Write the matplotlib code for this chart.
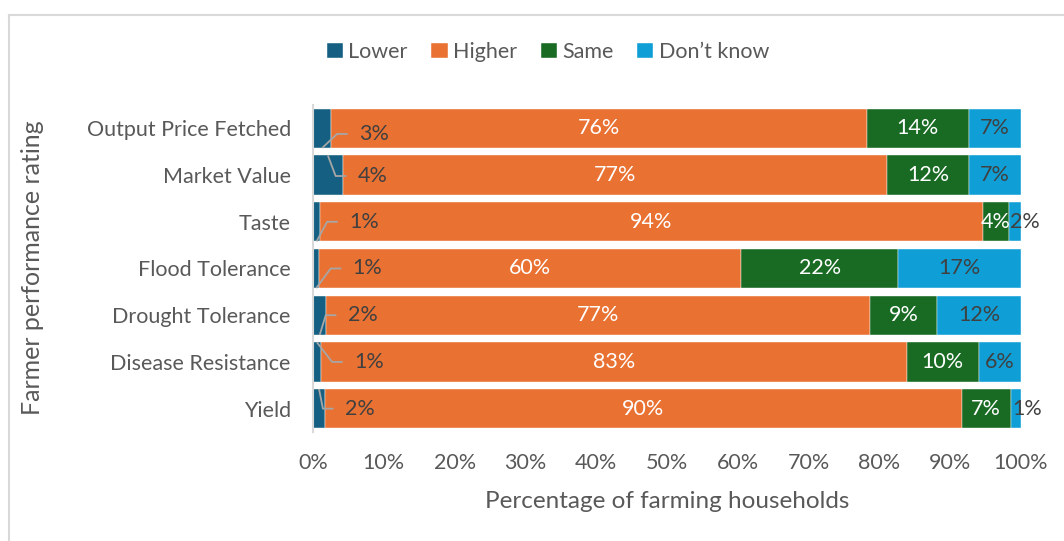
import matplotlib.pyplot as plt
from matplotlib.lines import Line2D

plt.rcParams['font.family'] = ['Lato', 'DejaVu Sans']

# Dados
categories = ["Output Price Fetched", "Market Value", "Taste", "Flood Tolerance",
              "Drought Tolerance", "Disease Resistance", "Yield"]
lower = [2.6, 4.2, 1.0, 0.9, 1.9, 1.1, 1.7]
higher = [75.6, 76.9, 93.6, 59.6, 76.8, 82.8, 89.9]
same = [14.4, 11.6, 3.7, 22.1, 9.4, 10.1, 7.0]
dont_know = [7.4, 7.3, 1.7, 17.4, 11.9, 6.0, 1.4]
series_names = ["Lower", "Higher", "Same", "Don\u2019t know"]

colors = ["#156082", "#E97132", "#196B24", "#0F9ED5"]
label_colors = ["#404040", "white", "white", "#404040"]
gray = "#595959"
fs = 15.5

# posição dos rótulos de "Lower" (x do texto em %, deslocamento y, borda da barra)
lab_x = [6.5, 6.3, 5.1, 5.6, 4.9, 5.8, 4.5]
lab_dy = [0.12, 0.02, 0.0, 0.0, 0.0, 0.0, 0.0]
edge = [1, -1, 1, 1, 1, -1, -1]

fig = plt.figure(figsize=(10.64, 5.41), dpi=100)
ax = fig.add_axes([313 / 1064, 1 - 432 / 541, 708 / 1064, 327 / 541])

ypos = list(range(len(categories)))
h = 0.84
left = [0.0] * len(categories)
for name, vals, c, tc in zip(series_names, [lower, higher, same, dont_know], colors, label_colors):
    ax.barh(ypos, vals, left=left, height=h, color=c, label=name,
            edgecolor='white', linewidth=0.3)
    if name != "Lower":
        for y, v, l in zip(ypos, vals, left):
            if v < 3:
                ax.text(l + 0.2, y, f"{round(v)}%", ha='left', va='center',
                        color=tc, fontsize=fs)
            else:
                ax.text(l + v / 2, y, f"{round(v)}%", ha='center', va='center',
                        color=tc, fontsize=fs)
    left = [a + b for a, b in zip(left, vals)]

# rótulos de "Lower" com linhas de chamada
for y, v, tx, dy, e in zip(ypos, lower, lab_x, lab_dy, edge):
    ty = y + dy
    xs = [v / 2, tx - 3.1, tx - 1.6]
    ys = [y + e * h / 2, ty, ty]
    ax.plot(xs, ys, color="#a6a6a6", lw=1.3, solid_capstyle='butt', clip_on=False)
    ax.text(tx, ty, f"{round(v)}%", ha='left', va='center', color="#404040", fontsize=fs)

ax.set_xlim(0, 100)
ax.set_ylim(len(categories) - 0.5, -0.5)
ax.set_yticks(ypos)
ax.set_yticklabels(categories)
ax.set_xticks(range(0, 101, 10))
ax.set_xticklabels([f"{t}%" for t in range(0, 101, 10)])
ax.tick_params(axis='y', length=0, pad=16, labelsize=fs, labelcolor=gray)
ax.tick_params(axis='x', length=0, pad=15, labelsize=fs, labelcolor=gray)
for s in ['top', 'right', 'bottom']:
    ax.spines[s].set_visible(False)
ax.spines['left'].set_color("#d9d9d9")
ax.spines['left'].set_linewidth(1.5)

fig.text(667 / 1064, 1 - 501 / 541, "Percentage of farming households",
         ha='center', va='center', fontsize=17.5, color=gray)
fig.text(33 / 1064, 1 - 268 / 541, "Farmer performance rating",
         ha='center', va='center', rotation=90, fontsize=18, color=gray)

fig.legend(loc='center', bbox_to_anchor=(548 / 1064, 1 - 52 / 541), ncol=4,
           frameon=False, fontsize=fs, labelcolor=gray, handlelength=0.75,
           handleheight=0.75, handletextpad=0.25, columnspacing=1.1)

# moldura do gráfico
fig.add_artist(Line2D([9 / 1064, 1], [1 - 15 / 541, 1 - 15 / 541], color="#d9d9d9", lw=1.5))
fig.add_artist(Line2D([9 / 1064, 9 / 1064], [0, 1 - 15 / 541], color="#d9d9d9", lw=1.5))

fig.savefig("out.png", dpi=100)
